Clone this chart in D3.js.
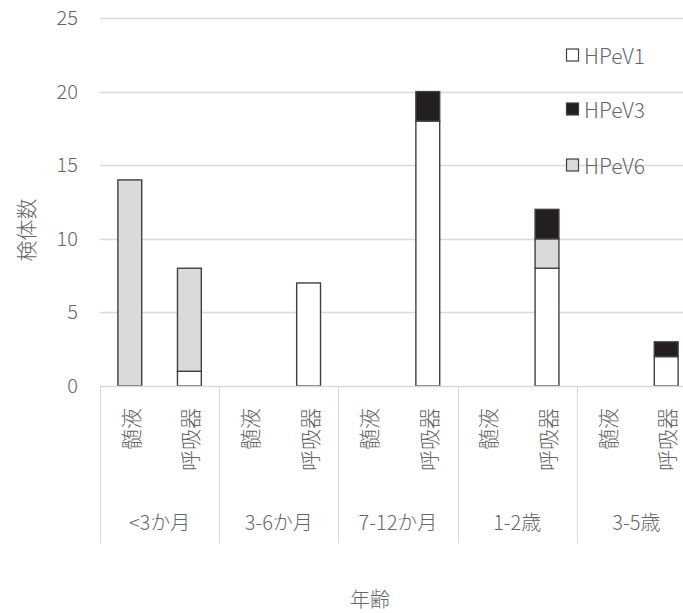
<!DOCTYPE html>
<html>
<head>
<meta charset="utf-8">
<script src="https://cdn.jsdelivr.net/npm/d3@7"></script>
<style>
  html, body { margin: 0; padding: 0; background: #fff; }
  svg { display: block; font-family: "Noto Sans CJK JP", "Noto Sans", sans-serif; font-weight: 300; }
</style>
</head>
<body>
<svg id="chart" width="683" height="613"></svg>
<script>
// Age groups and specimen types (two-level category axis)
const ageGroups = ["<3か月", "3-6か月", "7-12か月", "1-2歳", "3-5歳"];
const specimens = ["髄液", "呼吸器"];

// Counts per (age group, specimen), in the order ageGroups x specimens
const hpev1 = [0, 1, 0, 7, 0, 18, 0, 8, 0, 2];
const hpev3 = [0, 0, 0, 0, 0, 2, 0, 2, 0, 1];
const hpev6 = [14, 7, 0, 0, 0, 0, 0, 2, 0, 0];

const yTicks = [0, 5, 10, 15, 20, 25];

const seriesInfo = [
  { key: "HPeV1", values: hpev1, color: "#ffffff" },
  { key: "HPeV3", values: hpev3, color: "#231f20" },
  { key: "HPeV6", values: hpev6, color: "#d9dadb" }
];
// Stacking order from the bottom up
const stackOrder = ["HPeV1", "HPeV6", "HPeV3"];

const textColor = "#666666";
const gridColor = "#d9d9d9";
const barStroke = "#404040";

const svg = d3.select("#chart");

const plot = { left: 100, right: 696, top: 18, bottom: 386 };

// Build flat rows for each bar
const rows = [];
ageGroups.forEach((g, gi) => {
  specimens.forEach((s, si) => {
    const i = gi * specimens.length + si;
    const row = { id: g + "|" + s, group: g, specimen: s };
    seriesInfo.forEach(se => { row[se.key] = se.values[i]; });
    rows.push(row);
  });
});

const x = d3.scaleBand()
  .domain(rows.map(r => r.id))
  .range([plot.left, plot.right])
  .paddingInner(0.6)
  .paddingOuter(0.3);

const groupX = d3.scaleBand()
  .domain(ageGroups)
  .range([plot.left, plot.right]);

const y = d3.scaleLinear()
  .domain([0, 25])
  .range([plot.bottom, plot.top]);

// Horizontal gridlines
svg.append("g")
  .selectAll("line")
  .data(yTicks.filter(t => t > 0))
  .join("line")
  .attr("x1", plot.left)
  .attr("x2", plot.right)
  .attr("y1", d => Math.round(y(d)) + 0.5)
  .attr("y2", d => Math.round(y(d)) + 0.5)
  .attr("stroke", gridColor)
  .attr("stroke-width", 1.5);

// Y axis tick labels
const yAxis = d3.axisLeft(y).tickValues(yTicks).tickSize(0).tickPadding(0);
const yAxisG = svg.append("g")
  .attr("transform", `translate(${plot.left - 22},0)`)
  .call(yAxis);
yAxisG.select(".domain").remove();
yAxisG.selectAll("text")
  .attr("fill", textColor)
  .style("font-size", "20px")
  .style("font-weight", "300")
  .style("font-family", "\"Noto Sans CJK JP\", sans-serif");

// Stacked bars
const stack = d3.stack().keys(stackOrder);
const stacked = stack(rows);
const colorOf = Object.fromEntries(seriesInfo.map(s => [s.key, s.color]));

svg.append("g")
  .selectAll("g")
  .data(stacked)
  .join("g")
  .attr("fill", d => colorOf[d.key])
  .selectAll("rect")
  .data(d => d.filter(p => p[1] - p[0] > 0))
  .join("rect")
  .attr("x", d => x(d.data.id))
  .attr("width", x.bandwidth())
  .attr("y", d => y(d[1]))
  .attr("height", d => y(d[0]) - y(d[1]))
  .attr("stroke", barStroke)
  .attr("stroke-width", 1.4);

// Category axis baseline
svg.append("line")
  .attr("x1", plot.left)
  .attr("x2", plot.right)
  .attr("y1", plot.bottom + 0.5)
  .attr("y2", plot.bottom + 0.5)
  .attr("stroke", gridColor)
  .attr("stroke-width", 1.5);

// Group separators
const sepBottom = 543;
const sepXs = ageGroups.map(g => groupX(g)).concat([plot.right]);
svg.append("g")
  .selectAll("line")
  .data(sepXs)
  .join("line")
  .attr("x1", d => Math.round(d) + 0.5)
  .attr("x2", d => Math.round(d) + 0.5)
  .attr("y1", plot.bottom)
  .attr("y2", sepBottom)
  .attr("stroke", gridColor)
  .attr("stroke-width", 1);

// Specimen labels, rotated to read bottom-to-top
svg.append("g")
  .selectAll("text")
  .data(rows)
  .join("text")
  .attr("transform", d => `translate(${x(d.id) + x.bandwidth() / 2},408) rotate(-90)`)
  .attr("text-anchor", "end")
  .attr("dominant-baseline", "central")
  .attr("fill", textColor)
  .style("font-size", "21px")
  .text(d => d.specimen);

// Age group labels
svg.append("g")
  .selectAll("text")
  .data(ageGroups)
  .join("text")
  .attr("x", d => groupX(d) + groupX.bandwidth() / 2)
  .attr("y", 521)
  .attr("text-anchor", "middle")
  .attr("dominant-baseline", "central")
  .attr("fill", textColor)
  .style("font-size", "20px")
  .text(d => d);

// Axis titles
svg.append("text")
  .attr("transform", "translate(25,230) rotate(-90)")
  .attr("text-anchor", "middle")
  .attr("dominant-baseline", "central")
  .attr("fill", textColor)
  .style("font-size", "21px")
  .text("検体数");

svg.append("text")
  .attr("x", 370)
  .attr("y", 598)
  .attr("text-anchor", "middle")
  .attr("dominant-baseline", "central")
  .attr("fill", textColor)
  .style("font-size", "20px")
  .text("年齢");

// Legend
const legendY = [55, 109, 165];
const legend = svg.append("g")
  .selectAll("g")
  .data(seriesInfo)
  .join("g")
  .attr("transform", (d, i) => `translate(566,${legendY[i]})`);
legend.append("rect")
  .attr("x", 0.5)
  .attr("y", -6)
  .attr("width", 12)
  .attr("height", 12)
  .attr("fill", d => d.color)
  .attr("stroke", barStroke)
  .attr("stroke-width", 1.2);
legend.append("text")
  .attr("x", 18)
  .attr("y", 0)
  .attr("dominant-baseline", "central")
  .attr("fill", textColor)
  .style("font-size", "21px")
  .text(d => d.key);
</script>
</body>
</html>
